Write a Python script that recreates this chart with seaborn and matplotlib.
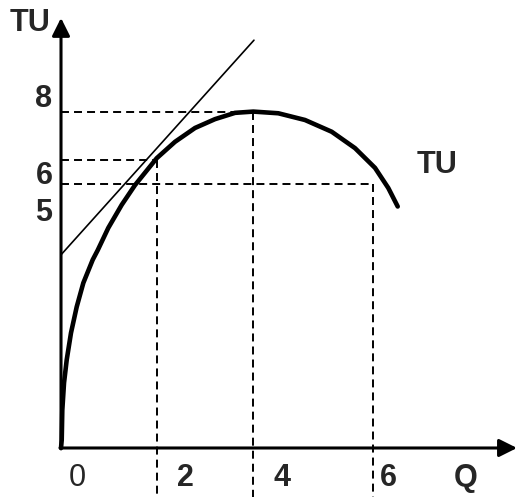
import numpy as np
import pandas as pd
import seaborn as sns
import matplotlib.pyplot as plt

# total utility curve (Q, TU)
q_vals = [0.0, 0.015, 0.027, 0.063, 0.119, 0.208, 0.327, 0.465, 0.660, 0.765,
          0.985, 1.265, 1.542, 1.994, 2.375, 2.792, 3.208, 3.625, 4.006,
          4.527, 5.083, 5.640, 6.125, 6.542, 6.819, 7.015]
tu_vals = [0.0, 0.19, 0.90, 1.55, 2.10, 2.74, 3.36, 3.93, 4.48, 4.71,
           5.24, 5.79, 6.26, 6.90, 7.29, 7.62, 7.83, 7.98, 8.01,
           7.97, 7.81, 7.53, 7.14, 6.67, 6.19, 5.75]

# tangent line end points
tan_q = [0.0, 4.02]
tan_tu = [4.6, 9.71]

# guide points (Q, TU) for the dashed lines
guide_q = [2.0, 4.0, 6.5]
guide_tu = [6.86, 8.0, 6.29]

y_labels = ['8', '6', '5']
x_labels = ['0', '2', '4', '6']

sns.set_style('white')
plt.rcParams['font.family'] = ['Liberation Sans', 'DejaVu Sans']

fig = plt.figure(figsize=(5.18, 4.97), dpi=100)
ax = fig.add_axes([0, 0, 1, 1])
ax.set_xlim(-1.271, 9.521)
ax.set_ylim(-1.167, 10.667)
ax.axis('off')

dash = (0, (4.1, 2.6))
for gq, gt in zip(guide_q, guide_tu):
    ax.plot([0, gq], [gt, gt], color='black', lw=1.4, ls=dash)
    ax.plot([gq, gq], [gt, -1.2], color='black', lw=1.4, ls=dash)

curve = pd.DataFrame({'Q': q_vals, 'TU': tu_vals})
sns.lineplot(data=curve, x='Q', y='TU', sort=False, color='black', lw=3.3,
             solid_joinstyle='round', ax=ax)
sns.lineplot(x=tan_q, y=tan_tu, color='black', lw=1.2, ax=ax)

# axes with arrows
arrow = dict(arrowstyle='-|>,head_length=1.08,head_width=0.54', color='black',
             lw=2.2, shrinkA=0, shrinkB=0)
ax.annotate('', xy=(0, 10.24), xytext=(0, -0.02), arrowprops=arrow)
ax.annotate('', xy=(9.5, 0), xytext=(-0.02, 0), arrowprops=arrow)

bold = dict(fontsize=22, fontweight='bold', ha='center', va='center')
ax.text(-0.646, 10.13, 'TU', **bold)
ax.text(7.83, 6.74, 'TU', **bold)
for lab, yy in zip(y_labels, [8.31, 6.48, 5.60]):
    ax.text(-0.354, yy, lab, **bold)
ax.text(0.333, -0.714, x_labels[0], fontsize=22, ha='center', va='center')
for lab, xx in zip(x_labels[1:], [2.583, 4.604, 6.81]):
    ax.text(xx, -0.714, lab, **bold)
ax.text(8.42, -0.714, 'Q', **bold)

fig.savefig('out.png', dpi=100)
